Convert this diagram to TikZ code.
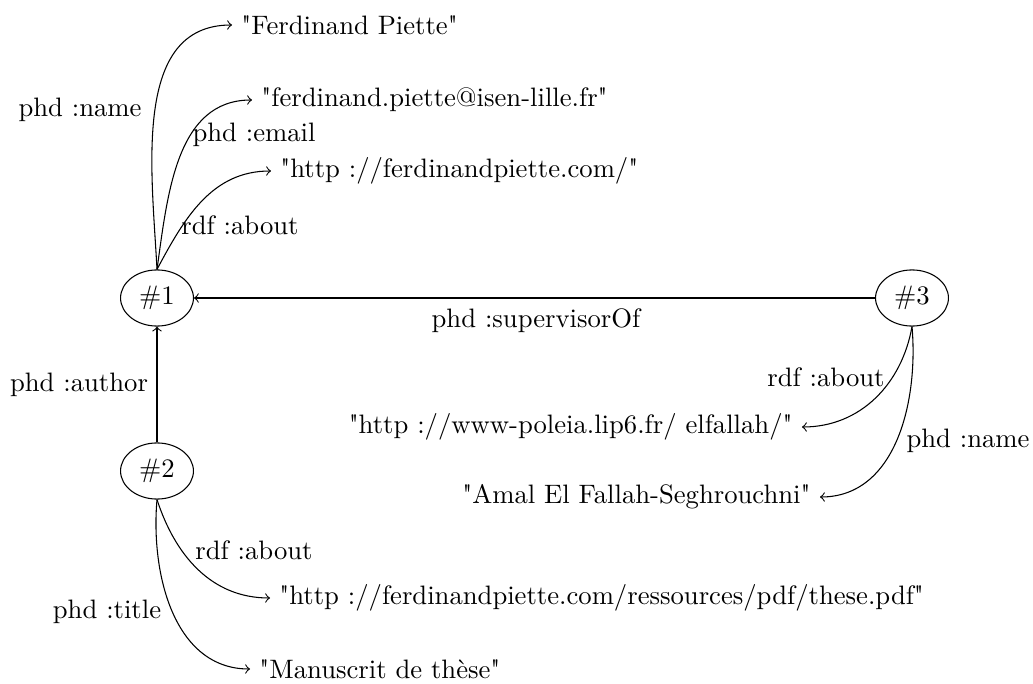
\documentclass[tikz,border=0pt]{standalone}
\usepackage{fontspec}
% plain family without TeX ligature mapping, so " stays a straight quote
\newfontfamily\plainrm{Latin Modern Roman}
\usetikzlibrary{shapes.geometric}
\begin{document}
\begin{tikzpicture}[x=0.375pt,y=-0.375pt,
  font=\plainrm,
  res/.style={draw,ellipse,inner sep=3pt},
  lit/.style={inner sep=3.33pt},
  lbl/.style={inner sep=0pt},
  arr/.style={->},
]
\useasboundingbox (0,0) rectangle (1033,684);

% resources
\node[res] (n1) at (157,298) {$\#1$};
\node[res] (n2) at (157,471) {$\#2$};
\node[res] (n3) at (912,298) {$\#3$};

% literals
\node[lit,anchor=west] (l1) at (232,25) {"Ferdinand Piette"};
\node[lit,anchor=west] (l2) at (252,100) {"ferdinand.piette@isen-lille.fr"};
\node[lit,anchor=west] (l3) at (271,171) {"http~://ferdinandpiette.com/"};
\node[lit,anchor=east] (l4) at (802,427) {"http~://www-poleia.lip6.fr/ elfallah/"};
\node[lit,anchor=east] (l5) at (820,497) {"Amal El Fallah-Seghrouchni"};
\node[lit,anchor=west] (l6) at (270,598) {"http~://ferdinandpiette.com/ressources/pdf/these.pdf"};
\node[lit,anchor=west] (l7) at (250,669) {"Manuscrit de thèse"};

% connectors
\draw[arr] (n1.north) to[out=93,in=180] (l1.west);
\draw[arr] (n1.north) to[out=82,in=180] (l2.west);
\draw[arr] (n1.north) to[out=62,in=180] (l3.west);
\draw[arr] (n3.west) -- (n1.east);
\draw[arr] (n2.north) -- (n1.south);
\draw[arr] (n3.south) to[out=-100,in=0] (l4.east);
\draw[arr] (n3.south) to[out=-85,in=0] (l5.east);
\draw[arr] (n2.south) to[out=-72,in=180] (l6.west);
\draw[arr] (n2.south) to[out=-95,in=180] (l7.west);

% property labels
\node[lbl] (p1) at (80,110) {phd~:name};
\node[lbl] (p2) at (254,135) {phd~:email};
\node[lbl] (p3) at (240,225) {rdf~:about};
\node[lbl] (p4) at (536,321) {phd~:supervisorOf};
\node[lbl] (p5) at (79,385) {phd~:author};
\node[lbl] (p6) at (826,377) {rdf~:about};
\node[lbl] (p7) at (968,441) {phd~:name};
\node[lbl] (p8) at (254,550) {rdf~:about};
\node[lbl] (p9) at (107,612) {phd~:title};
\end{tikzpicture}
\end{document}
